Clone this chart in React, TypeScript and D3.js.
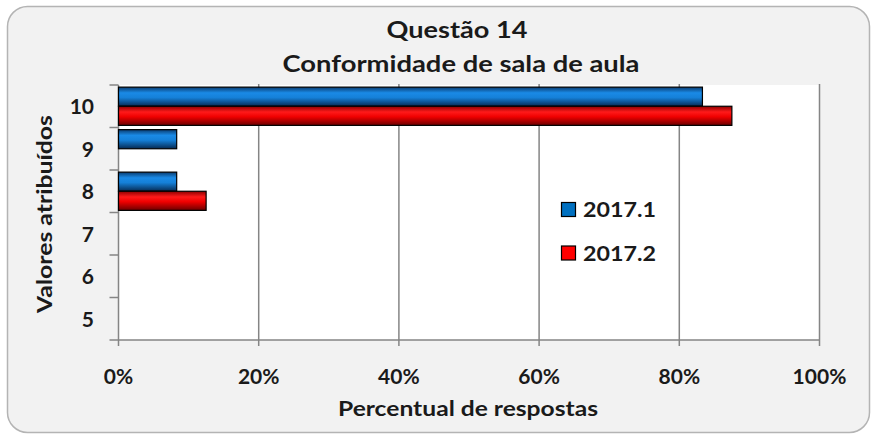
import React from "react";
import * as d3 from "d3";

const categories = ["10", "9", "8", "7", "6", "5"];
const seriesNames = ["2017.1", "2017.2"];
const values2017_1 = [83.3, 8.3, 8.3, 0, 0, 0];
const values2017_2 = [87.5, 0, 12.5, 0, 0, 0];
const xTicks = [0, 20, 40, 60, 80, 100];

const W = 872;
const H = 434;
const FONT = "Lato, 'Open Sans', sans-serif";

export default function App() {
  const left = 118.5, right = 819.5, top = 85, bottom = 340;
  const x = d3.scaleLinear().domain([0, 100]).range([left, right]);
  const y = d3.scaleBand().domain(categories).range([top, bottom]).paddingInner(0.1).paddingOuter(0.05);
  const inner = d3.scaleBand().domain(seriesNames).range([0, y.bandwidth()]);
  const series = [values2017_1, values2017_2];
  const grads = ["gBlue", "gRed"];
  const legendFill = ["#0070c0", "#ff0000"];
  const boundaries = d3.range(categories.length + 1).map((i) => top + (i * (bottom - top)) / categories.length);
  const txt = { fontFamily: FONT, fontWeight: "bold" as const, fill: "#1a1a1a" };

  return (
    <svg width={W} height={H} style={{ position: "absolute", left: 0, top: 0 }}>
      <defs>
        <linearGradient id="gBlue" x1="0" y1="0" x2="0" y2="1">
          <stop offset="0" stopColor="#0a3c70" />
          <stop offset="0.3" stopColor="#1a8ae6" />
          <stop offset="0.55" stopColor="#1580d8" />
          <stop offset="1" stopColor="#062a52" />
        </linearGradient>
        <linearGradient id="gRed" x1="0" y1="0" x2="0" y2="1">
          <stop offset="0" stopColor="#8a0000" />
          <stop offset="0.3" stopColor="#ff1a1a" />
          <stop offset="0.55" stopColor="#f00000" />
          <stop offset="1" stopColor="#6a0000" />
        </linearGradient>
      </defs>
      <rect x={0} y={0} width={W} height={H} fill="#ffffff" />
      <rect x={7.5} y={6.5} width={862} height={426} rx={20} fill="#f2f2f2" stroke="#b4b4b4" strokeWidth={1.5} />
      <text x={457} y={38} textAnchor="middle" fontSize={22} textLength={141} lengthAdjust="spacingAndGlyphs" {...txt}>Questão 14</text>
      <text x={461} y={72} textAnchor="middle" fontSize={22} textLength={357} lengthAdjust="spacingAndGlyphs" {...txt}>Conformidade de sala de aula</text>
      <rect x={left} y={top} width={right - left} height={bottom - top} fill="#ffffff" />
      {xTicks.slice(1).map((t) => (
        <line key={t} x1={x(t)} x2={x(t)} y1={top - 1} y2={bottom + 6} stroke="#858585" strokeWidth={1.5} />
      ))}
      <line x1={left} x2={left} y1={top} y2={bottom + 6} stroke="#858585" strokeWidth={1.5} />
      <line x1={left} x2={right} y1={bottom} y2={bottom} stroke="#858585" strokeWidth={1.5} />
      {boundaries.map((b, i) => (
        <line key={i} x1={left - 9} x2={left} y1={b} y2={b} stroke="#858585" strokeWidth={1.5} />
      ))}
      {categories.map((c, ci) =>
        series.map((vals, si) =>
          vals[ci] > 0 ? (
            <rect
              key={c + si}
              x={x(0)}
              y={(y(c) as number) + (inner(seriesNames[si]) as number)}
              width={x(vals[ci]) - x(0)}
              height={inner.bandwidth()}
              fill={`url(#${grads[si]})`}
              stroke="#000"
              strokeWidth={1.2}
            />
          ) : null
        )
      )}
      {categories.map((c) => (
        <text key={c} x={94} y={(y(c) as number) + y.bandwidth() / 2 + 8} textAnchor="end" fontSize={21} {...txt}>{c}</text>
      ))}
      {xTicks.map((t) => (
        <text key={t} x={x(t)} y={384} textAnchor="middle" fontSize={21} {...txt}>{t}%</text>
      ))}
      <text x={468} y={416} textAnchor="middle" fontSize={21} textLength={260} lengthAdjust="spacingAndGlyphs" {...txt}>Percentual de respostas</text>
      <text transform={`translate(52,214) rotate(-90)`} textAnchor="middle" fontSize={21} textLength={198} lengthAdjust="spacingAndGlyphs" {...txt}>Valores atribuídos</text>
      {seriesNames.map((s, i) => (
        <g key={s} transform={`translate(561,${202 + i * 43.5})`}>
          <rect x={0.5} y={0.5} width={14} height={14} fill={legendFill[i]} stroke="#000" strokeWidth={1.2} />
          <text x={22} y={15} fontSize={21} textLength={73} lengthAdjust="spacingAndGlyphs" {...txt}>{s}</text>
        </g>
      ))}
    </svg>
  );
}
